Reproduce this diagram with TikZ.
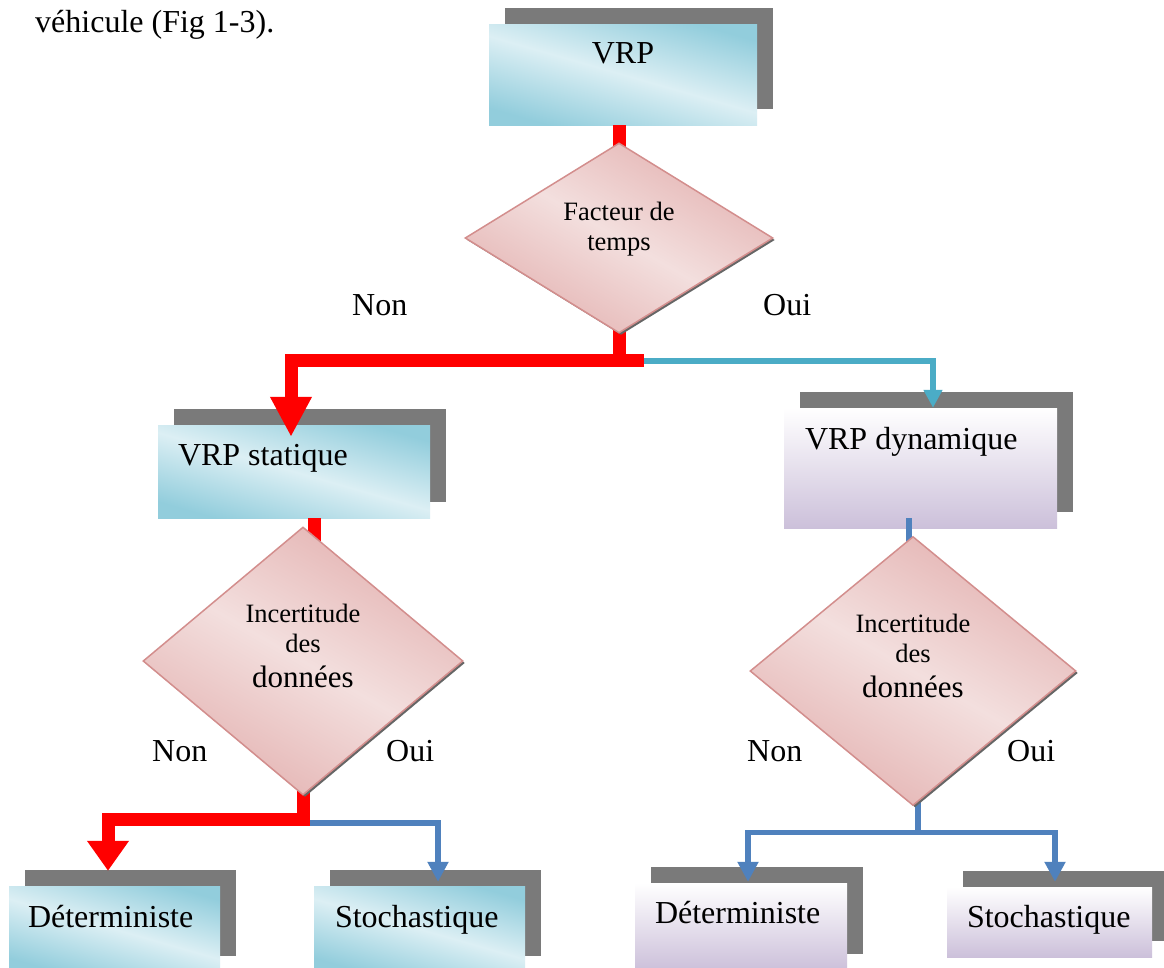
\documentclass[tikz,border=0pt]{standalone}
\usepackage{fontspec}
\setmainfont{Liberation Serif}
\usetikzlibrary{shapes.geometric,arrows.meta,shadows,calc}
\hyphenpenalty=10000
\pgfdeclarelayer{fg}
\pgfsetlayers{main,fg}
\definecolor{cyd}{HTML}{92CDDC}
\definecolor{cyl}{HTML}{DCEFF4}
\definecolor{pkd}{HTML}{E4B3B2}
\definecolor{pkl}{HTML}{F3DFDE}
\definecolor{pkb}{HTML}{D38E8D}
\definecolor{lav}{HTML}{CCC0DA}
\definecolor{shg}{HTML}{7A7A7A}
\definecolor{redc}{HTML}{FF0000}
\definecolor{aqua}{HTML}{4BACC6}
\definecolor{bluec}{HTML}{4F81BD}
\tikzset{
  bigfont/.style={font=\fontsize{32}{36}\selectfont},
  boxbase/.style={rectangle, inner ysep=0pt, align=flush left, bigfont,
    general shadow={fill=shg, shadow xshift=16pt, shadow yshift=16pt}},
  cyanbox/.style={boxbase, left color=cyd, right color=cyd, middle color=cyl, shading angle=-16},
  lavbox/.style={boxbase, top color=white, bottom color=lav},
  dec/.style={diamond, inner sep=0pt, draw=pkb, line width=1.5pt,
    left color=pkd, right color=pkd, middle color=pkl, shading angle=-30,
    drop shadow={shadow xshift=2pt, shadow yshift=-2pt, fill=black!60, opacity=1},
    font=\fontsize{26.5}{30}\selectfont},
  lbl/.style={bigfont, inner sep=0pt, anchor=base west},
  redconn/.style={draw=redc, line width=13pt},
  blueconn/.style={draw=bluec, line width=5.5pt},
  aquaconn/.style={draw=aqua, line width=5.5pt},
}
\begin{document}
\begin{tikzpicture}[x=1pt,y=-1pt]
\fill[white] (0,0) rectangle (1164,967);
\useasboundingbox (0,0) rectangle (1164,967);

% decisions (front layer)
\begin{pgfonlayer}{fg}
\node[dec, minimum width=308pt, minimum height=190pt] (d1) at (619,238)
  {\raisebox{0pt}[\height][\dimexpr\depth+18pt\relax]{\begin{tabular}{@{}c@{}}Facteur de\\temps\end{tabular}}};
\node[dec, minimum width=320pt, minimum height=268pt] (d2) at (303,661)
  {\raisebox{0pt}[\height][\dimexpr\depth+23.6pt\relax]{\begin{tabular}{@{}c@{}}Incertitude\\des\\[4pt]{\fontsize{31}{34}\selectfont données}\end{tabular}}};
\node[dec, minimum width=326pt, minimum height=269pt] (d3) at (913,671)
  {\raisebox{0pt}[\height][\dimexpr\depth+23.6pt\relax]{\begin{tabular}{@{}c@{}}Incertitude\\des\\[4pt]{\fontsize{31}{34}\selectfont données}\end{tabular}}};
\end{pgfonlayer}

% boxes
\node[cyanbox, align=center, inner xsep=0pt, text width=268pt, text height=39pt, text depth=62pt] (vrp) at (623,74.5) {VRP};
\node[cyanbox, inner xsep=20pt, text width=232pt, text height=40pt, text depth=53pt] (stat) at (294,471.5) {VRP statique};
\node[lavbox, inner xsep=21pt, text width=231pt, text height=41pt, text depth=79pt] (dyn) at (920.5,468) {VRP dynamique};
\node[cyanbox, inner xsep=19pt, text width=173pt, text height=41pt, text depth=45pt] (detL) at (114.5,929) {Déterministe};
\node[cyanbox, inner xsep=21pt, text width=169pt, text height=41pt, text depth=45pt] (stoL) at (419.5,929) {Stochastique};
\node[lavbox, inner xsep=20pt, text width=172pt, text height=40pt, text depth=47pt] (detR) at (741,926.5) {Déterministe};
\node[lavbox, inner xsep=20pt, text width=165pt, text height=40pt, text depth=30pt] (stoR) at (1049.5,922) {Stochastique};

% junctions
\coordinate (j1) at ($(d1.south)+(0,27)$);
\coordinate (j1r) at ($(d1.south)+(25,27)$);
\coordinate (j2) at ($(d2.south)+(0,24)$);
\coordinate (j2b) at ($(d2.south)+(0,27)$);
\coordinate (j3) at ($(d3.south)+(5,26)$);

% connectors
\draw[redconn] (d1.north |- vrp.south) -- ($(d1.north)+(0,15)$);
\draw[aquaconn, -{Triangle[length=18pt,width=18pt]}] (j1r) -| ([xshift=12.5pt]dyn.north);
\draw[redconn] ([yshift=15pt]d1.south) |- (j1r);
\draw[redconn, -{Triangle[length=40pt,width=39pt]}] (j1) -| ([xshift=-3pt,yshift=-12pt]stat.north);

\draw[redconn] ($(stat.south -| d2.north)+(11,0)$) -- ($(d2.north)+(11,20)$);
\draw[blueconn, -{Triangle[length=20pt,width=20pt]}] (j2b) -| ([xshift=18.5pt,yshift=4pt]stoL.north);
\draw[redconn, -{Triangle[length=30pt,width=40pt]}] ([yshift=15pt]d2.south) -- (j2) -| ([xshift=-6.5pt,yshift=15pt]detL.north);

\draw[blueconn] ($(dyn.south -| d3.north)+(-4,-10)$) -- ($(d3.north)+(-4,15)$);
\draw[blueconn] ($(d3.south)+(5,-15)$) -- (j3);
\draw[blueconn, -{Triangle[length=20pt,width=20pt]}] (j3) -| ([xshift=7pt,yshift=1pt]detR.north);
\draw[blueconn, -{Triangle[length=20pt,width=20pt]}] (j3) -| ([xshift=5.5pt,yshift=5pt]stoR.north);

% labels
\node[lbl] (t0) at (35,32) {véhicule (Fig 1-3).};
\node[lbl] (n1) at (352,315) {Non};
\node[lbl] (o1) at (763,315) {Oui};
\node[lbl] (n2) at (152,761) {Non};
\node[lbl] (o2) at (386,761) {Oui};
\node[lbl] (n3) at (747,761) {Non};
\node[lbl] (o3) at (1007,761) {Oui};
\end{tikzpicture}
\end{document}
